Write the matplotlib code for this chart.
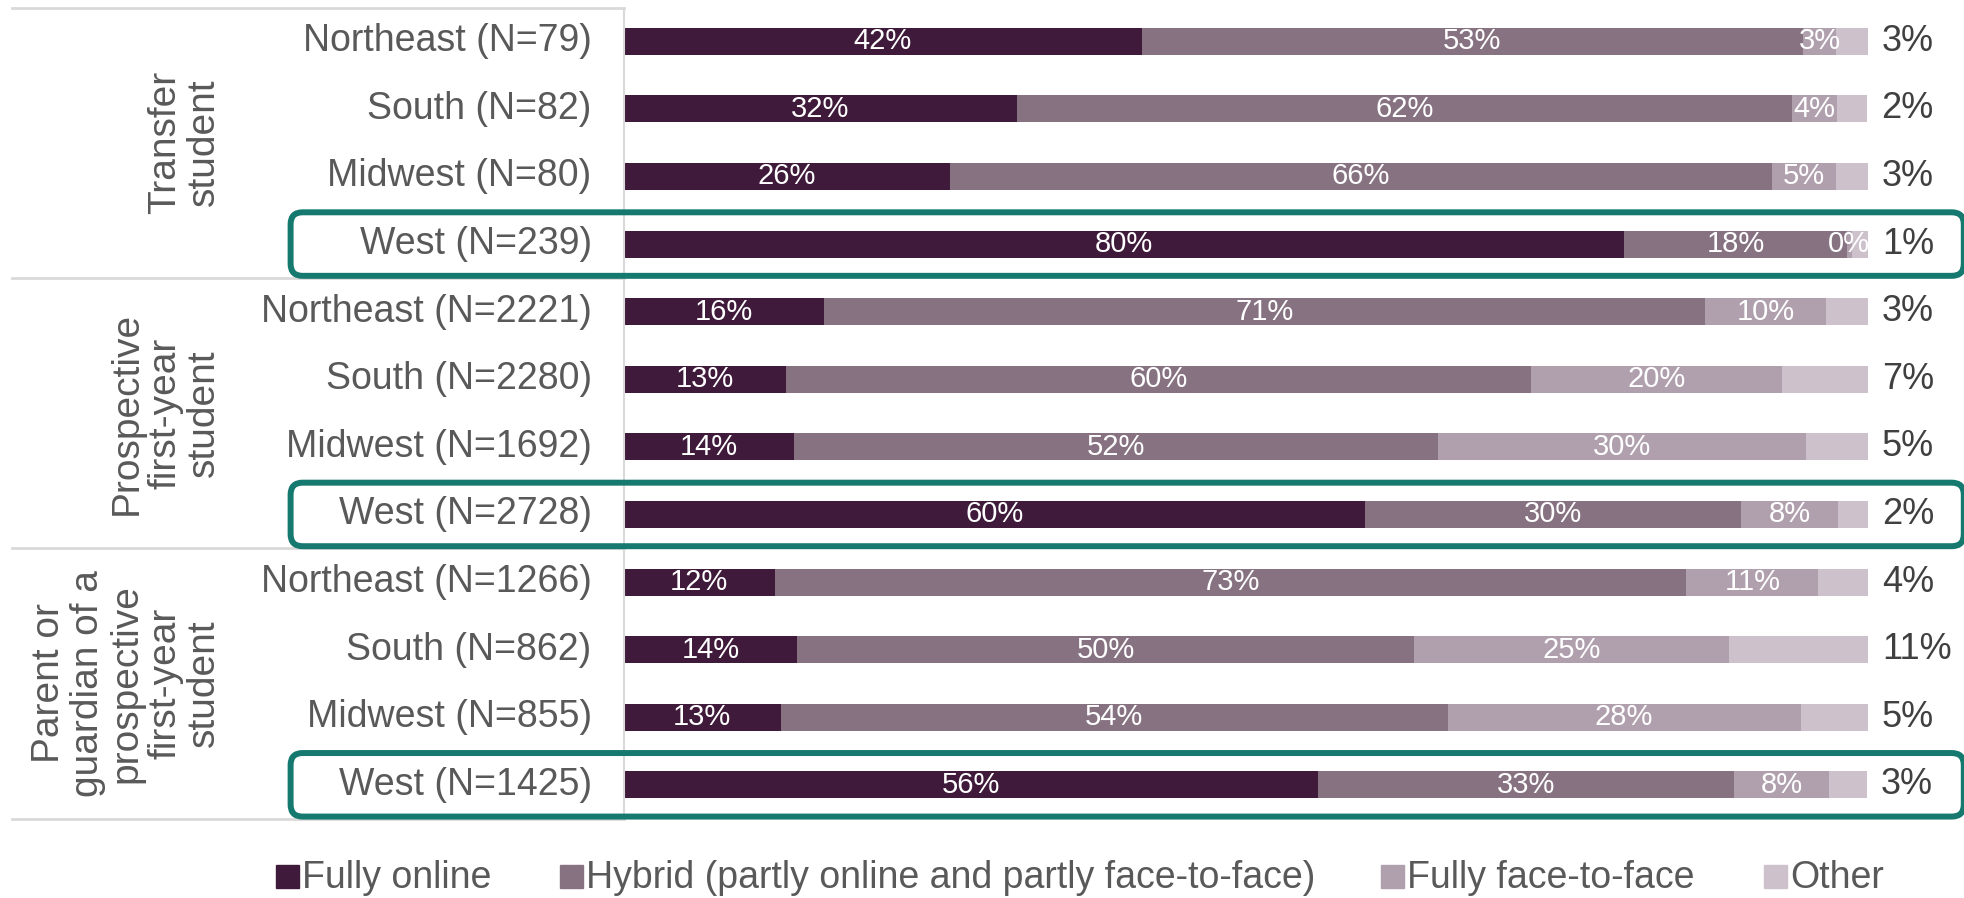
import matplotlib
matplotlib.use("Agg")
import matplotlib.pyplot as plt
from matplotlib.patches import FancyBboxPatch, Rectangle
from matplotlib.transforms import IdentityTransform
import numpy as np

plt.rcParams["font.family"] = ["Liberation Sans", "DejaVu Sans"]

# data
groups = [
    "Transfer\nstudent",
    "Prospective\nfirst-year\nstudent",
    "Parent or\nguardian of a\nprospective\nfirst-year\nstudent",
]
regions = ["Northeast", "South", "Midwest", "West"]
sample_sizes = [79, 82, 80, 239, 2221, 2280, 1692, 2728, 1266, 862, 855, 1425]
categories = [
    "Fully online",
    "Hybrid (partly online and partly face-to-face)",
    "Fully face-to-face",
    "Other",
]
fully_online = [41.6, 31.6, 26.2, 80.4, 16.1, 13.0, 13.7, 59.6, 12.1, 13.9, 12.6, 55.8]
hybrid = [53.2, 62.3, 66.1, 17.9, 70.8, 59.9, 51.7, 30.2, 73.3, 49.6, 53.6, 33.4]
face_to_face = [2.6, 3.6, 5.1, 0.4, 9.7, 20.2, 29.6, 7.8, 10.6, 25.3, 28.4, 7.7]
other = [2.6, 2.4, 2.6, 1.3, 3.4, 6.9, 5.0, 2.4, 4.0, 11.2, 5.4, 3.0]
highlight = "West"

colors = ["#3f1a3b", "#877282", "#b0a0ae", "#cdc1cb"]
text_grey = "#595959"
line_grey = "#d9d9d9"
box_green = "#16796f"

W, H = 1964, 898
fig = plt.figure(figsize=(W / 100, H / 100), dpi=100)
ax = fig.add_axes([624 / W, 1 - 818.6 / H, 1244 / W, 811.1 / H])

n_rows = len(sample_sizes)
y = np.arange(n_rows)
series = [fully_online, hybrid, face_to_face, other]
left = np.zeros(n_rows)
for k, vals in enumerate(series):
    vals = np.array(vals)
    bars = ax.barh(y, vals, left=left, height=0.4, color=colors[k], label=categories[k])
    labels = [f"{v:.0f}%" for v in vals]
    if k < 3:
        ax.bar_label(bars, labels=labels, label_type="center", color="white", fontsize=21)
    else:
        ax.bar_label(bars, labels=labels, label_type="edge", padding=10, color="#404040", fontsize=26)
    left += vals

ax.set_xlim(0, 100)
ax.set_ylim(n_rows - 0.5, -0.5)
ax.axis("off")

# left axis line
ax.plot([0, 0], [-0.5, n_rows - 0.5], color=line_grey, lw=1.5, clip_on=False)

# row labels
for i, n in enumerate(sample_sizes):
    ax.text(-2.6, i, f"{regions[i % 4]} (N={n})", ha="right", va="center",
            fontsize=27, color=text_grey)

# group labels and separators
for g, name in enumerate(groups):
    ax.text(-32.3, g * 4 + 1.5, name, rotation=90, ha="right", va="center",
            multialignment="center", fontsize=28, linespacing=1.1, color=text_grey)
for yy in [-0.5, 3.5, 7.5, 11.5]:
    ax.plot([-49.2, 0], [yy, yy], color=line_grey, lw=2, clip_on=False)

# highlight boxes around West rows
fig.canvas.draw()
for i in range(n_rows):
    if regions[i % 4] != highlight:
        continue
    (x0, y0), (x1, y1) = ax.transData.transform([(-26.8, i + 0.47), (107.7, i - 0.47)])
    box = FancyBboxPatch((x0, y0), x1 - x0, y1 - y0,
                         boxstyle="round,pad=0,rounding_size=12",
                         transform=IdentityTransform(), fill=False,
                         edgecolor=box_green, lw=4.3)
    fig.add_artist(box)

# legend
legend_x = [276, 560, 1381, 1764]
for k, name in enumerate(categories):
    fig.add_artist(Rectangle((legend_x[k] / W, 10 / H), 23 / W, 23 / H,
                             transform=fig.transFigure, color=colors[k]))
    fig.text((legend_x[k] + 26) / W, 10 / H, name, ha="left", va="baseline",
             fontsize=27, color=text_grey)

fig.savefig("out.png", dpi=100)
